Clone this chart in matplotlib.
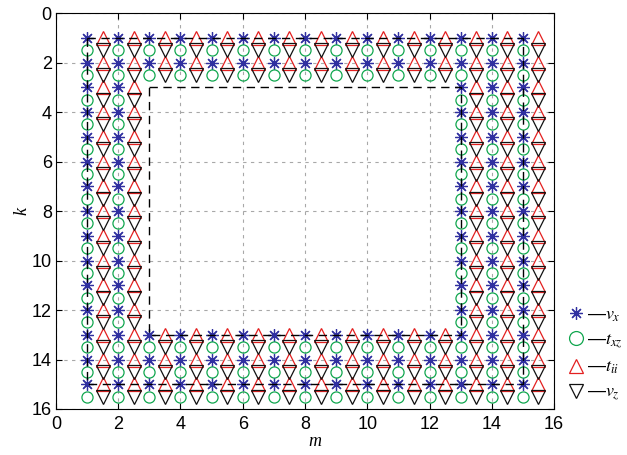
"""
Staggered grid layout: boundary-region nodes for v_x, t_xz, t_ii, v_z.
"""

import matplotlib
matplotlib.use('Agg')
import matplotlib.pyplot as plt
from matplotlib.lines import Line2D

# node indices along m and k
m_nodes = [1, 2, 3, 4, 5, 6, 7, 8, 9, 10, 11, 12, 13, 14, 15]
k_nodes = [1, 2, 3, 4, 5, 6, 7, 8, 9, 10, 11, 12, 13, 14, 15]
# columns / rows belonging to the boundary region
edge_m = [1, 2, 13, 14, 15]
edge_k = [1, 2, 13, 14, 15]
half = 0.5  # staggered offset

# dashed boundaries (corners)
inner_box = (3, 13)
outer_box = (1, 15)

ticks = [0, 2, 4, 6, 8, 10, 12, 14, 16]
names = ['$v_x$', '$t_{xz}$', '$t_{ii}$', '$v_z$']

# collect boundary nodes
node_m, node_k = [], []
for k in k_nodes:
    for m in m_nodes:
        if m in edge_m or k in edge_k:
            node_m.append(m)
            node_k.append(k)

shift_m = [m + half for m in node_m]
shift_k = [k + half for k in node_k]

blue = '#3030a0'
green = '#10a64e'
red = '#e32020'
black = '#111111'

plt.rcParams['font.family'] = ['Liberation Sans', 'DejaVu Sans']
plt.rcParams['mathtext.fontset'] = 'stix'

fig = plt.figure(figsize=(6.27, 4.55), dpi=100)
ax = fig.add_axes([0.0893, 0.1011, 0.7943, 0.8703])

ax.grid(True, color='#a8a8a8', linestyle=(0, (3, 4)), linewidth=0.8)
ax.set_axisbelow(True)

mk_vx = (8, 2, 0)
ms_vx, ms_o, ms_tri = 9, 8, 10
ew = 0.9
ax.plot(node_m, node_k, linestyle='none', marker=mk_vx, markersize=ms_vx,
        markeredgewidth=ew, color=blue, zorder=3)
ax.plot(node_m, shift_k, linestyle='none', marker='o', markersize=ms_o,
        markeredgewidth=ew, markerfacecolor='none', markeredgecolor=green, zorder=3)
ax.plot(shift_m, node_k, linestyle='none', marker='^', markersize=ms_tri,
        markeredgewidth=ew, markerfacecolor='none', markeredgecolor=red, zorder=3)
ax.plot(shift_m, shift_k, linestyle='none', marker='v', markersize=ms_tri,
        markeredgewidth=ew, markerfacecolor='none', markeredgecolor=black, zorder=3)

# dashed boxes
for lo, hi in (inner_box, outer_box):
    ax.plot([lo, hi, hi, lo, lo], [lo, lo, hi, hi, lo], color='black',
            linestyle=(0, (6, 4)), linewidth=1.0, zorder=4)

ax.set_xlim(0, 16)
ax.set_ylim(16, 0)
ax.set_xticks(ticks)
ax.set_yticks(ticks)
ax.tick_params(direction='in', top=True, right=True, length=4, width=0.8,
               labelsize=13)
ax.tick_params(axis='x', pad=5)
ax.tick_params(axis='y', pad=3)
for sp in ax.spines.values():
    sp.set_linewidth(0.8)

ax.set_xlabel('m', family='Liberation Serif', style='italic', fontsize=13)
ax.set_ylabel('k', family='Liberation Serif', style='italic', fontsize=13)
ax.xaxis.set_label_coords(0.52, -0.06)
ax.yaxis.set_label_coords(-0.052, 0.5)

handles = [
    Line2D([], [], linestyle='none', marker=mk_vx, markersize=ms_vx,
           markeredgewidth=ew, color=blue),
    Line2D([], [], linestyle='none', marker='o', markersize=ms_tri,
           markeredgewidth=ew, markerfacecolor='none', markeredgecolor=green),
    Line2D([], [], linestyle='none', marker='^', markersize=ms_tri,
           markeredgewidth=ew, markerfacecolor='none', markeredgecolor=red),
    Line2D([], [], linestyle='none', marker='v', markersize=ms_tri,
           markeredgewidth=ew, markerfacecolor='none', markeredgecolor=black),
]
labels = ['\u2014' + n for n in names]
ax.legend(handles, labels, loc='upper left', bbox_to_anchor=(0.904, 0.327),
          bbox_transform=fig.transFigure, frameon=False, fontsize=13,
          handlelength=1.0, handletextpad=0.1, labelspacing=0.45,
          borderpad=0, borderaxespad=0)

fig.savefig('out.png', dpi=100)
